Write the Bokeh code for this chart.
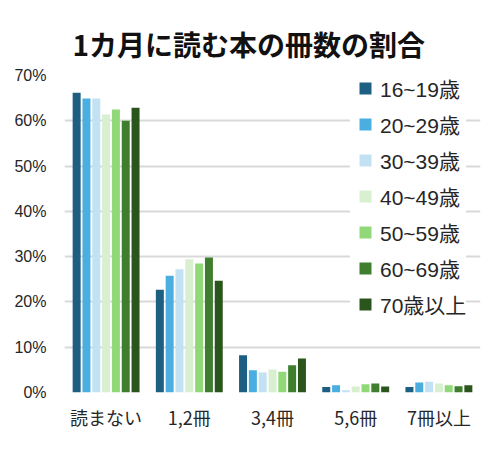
from bokeh.plotting import figure
from bokeh.models import FactorRange, NumeralTickFormatter, Legend, LegendItem, ColumnDataSource
from bokeh.transform import dodge
from bokeh.embed import file_html
from bokeh.resources import INLINE

categories = ["読まない", "1,2冊", "3,4冊", "5,6冊", "7冊以上"]
groups = ["16~19歳", "20~29歳", "30~39歳", "40~49歳", "50~59歳", "60~69歳", "70歳以上"]
v_16_19 = [0.662, 0.227, 0.082, 0.012, 0.012]
v_20_29 = [0.649, 0.258, 0.049, 0.016, 0.022]
v_30_39 = [0.649, 0.272, 0.044, 0.005, 0.024]
v_40_49 = [0.614, 0.294, 0.051, 0.013, 0.020]
v_50_59 = [0.625, 0.285, 0.046, 0.018, 0.016]
v_60_69 = [0.600, 0.298, 0.060, 0.020, 0.014]
v_70 = [0.629, 0.247, 0.075, 0.013, 0.016]
colors = ["#1d5f82", "#4aaee0", "#c2e2f4", "#d8efd0", "#90d878", "#3e7e2e", "#2a561d"]
y_ticks = [0, 0.1, 0.2, 0.3, 0.4, 0.5, 0.6, 0.7]

series = [v_16_19, v_20_29, v_30_39, v_40_49, v_50_59, v_60_69, v_70]
data = {"cat": categories}
for i, s in enumerate(series):
    data["s%d" % i] = s
source = ColumnDataSource(data)

CJK = "Noto Sans CJK JP"
MIX = "'Liberation Sans', 'Noto Sans CJK JP'"
TXT = "#262626"

p = figure(width=495, height=444, x_range=FactorRange(*categories), y_range=(0, 0.7),
           output_backend="svg", toolbar_location=None,
           min_border_left=64, min_border_right=15, min_border_top=75, min_border_bottom=52)

p.title.text = "1カ月に読む本の冊数の割合"
p.title.text_font = CJK
p.title.text_font_size = "28px"
p.title.text_font_style = "bold"
p.title.text_color = "#111111"
p.title.align = "left"
p.title.offset = 8
p.title.standoff = 23

pitch = 0.118
width = 0.096
items = []
for i, name in enumerate(groups):
    off = (i - 3) * pitch
    p.vbar(x=dodge("cat", off, range=p.x_range), top="s%d" % i, width=width,
           source=source, color=colors[i], line_color=None)
    # legend-only marker, placed below the visible y range
    sq = p.scatter(x=[categories[0]], y=[-1.0], marker="square", size=12,
                   color=colors[i], line_color=None)
    items.append(LegendItem(label=name, renderers=[sq]))

legend = Legend(items=items, location=(286, 73))
legend.label_text_font = MIX
legend.label_text_font_size = "21px"
legend.label_text_color = TXT
legend.glyph_width = 30
legend.glyph_height = 30
legend.label_height = 20
legend.spacing = 6
legend.label_standoff = 0
legend.padding = 14
legend.margin = 0
legend.border_line_color = None
legend.background_fill_alpha = 1.0
p.add_layout(legend)

p.outline_line_color = None
p.xgrid.grid_line_color = None
p.ygrid.grid_line_color = "#d9d9d9"
p.ygrid.grid_line_width = 2
p.yaxis.ticker = y_ticks
p.yaxis.formatter = NumeralTickFormatter(format="0%")
p.yaxis.axis_line_color = None
p.yaxis.major_tick_line_color = None
p.yaxis.minor_tick_line_color = None
p.yaxis.major_label_standoff = 12
p.yaxis.major_label_text_font = MIX
p.yaxis.major_label_text_font_size = "16px"
p.yaxis.major_label_text_color = TXT

p.xaxis.axis_line_color = None
p.xaxis.major_tick_line_color = None
p.xaxis.major_label_standoff = 5
p.xaxis.major_label_text_font = CJK
p.xaxis.major_label_text_font_size = "18px"
p.xaxis.major_label_text_color = TXT

open("out.html", "w").write(file_html(p, INLINE))
